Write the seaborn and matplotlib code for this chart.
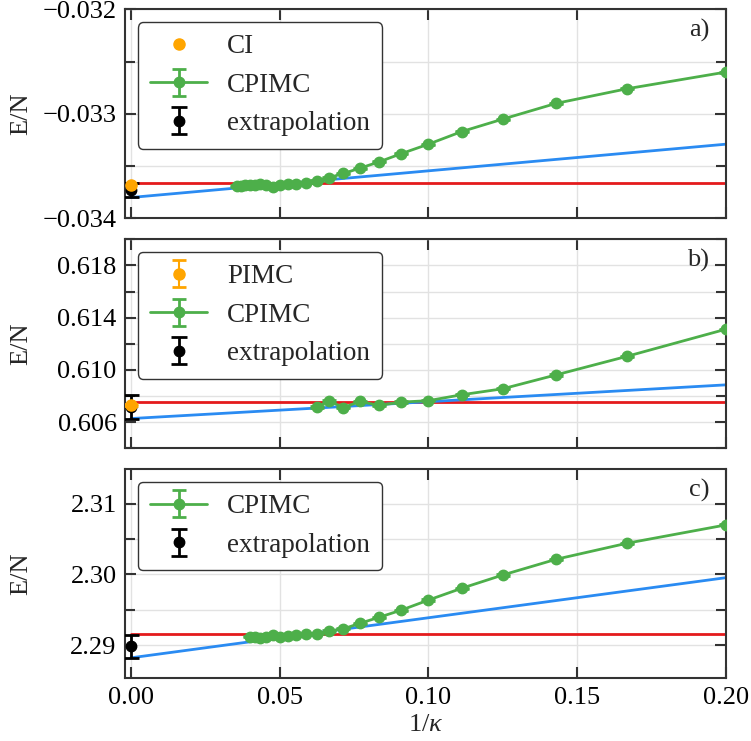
import numpy as np
import seaborn as sns
import matplotlib.pyplot as plt
from matplotlib.ticker import FixedLocator, MultipleLocator, FuncFormatter

# CPIMC data, one kappa list per panel
kappa_a = [5, 6, 7, 8, 9, 10, 11, 12, 13, 14, 15, 16, 17, 18, 19, 20, 21, 22, 23, 24, 25, 26, 27, 28]
cpimc_a = [-0.03260, -0.03276, -0.03290, -0.03305, -0.03317, -0.03329, -0.03338, -0.03346,
           -0.03352, -0.03357, -0.03361, -0.03364, -0.03366, -0.03367, -0.03367, -0.03368,
           -0.03370, -0.03368, -0.03367, -0.03368, -0.03368, -0.03368, -0.03369, -0.03369]
cpimc_a_err = [0.000005] * 24

kappa_b = [5, 6, 7, 8, 9, 10, 11, 12, 13, 14, 15, 16]
cpimc_b = [0.61312, 0.61104, 0.60962, 0.60856, 0.60810, 0.60765,
           0.60754, 0.60729, 0.60759, 0.60712, 0.60762, 0.60716]
cpimc_b_err = [0.00005] * 12

kappa_c = [5, 6, 7, 8, 9, 10, 11, 12, 13, 14, 15, 16, 17, 18, 19, 20, 21, 22, 23, 24, 25]
cpimc_c = [2.30702, 2.30442, 2.30215, 2.29993, 2.29804, 2.29638, 2.29496, 2.29393, 2.29308,
           2.29231, 2.29199, 2.29160, 2.29152, 2.29138, 2.29132, 2.29109, 2.29142, 2.29109,
           2.29095, 2.29109, 2.29118]
cpimc_c_err = [0.00008] * 21

# reference values at 1/kappa = 0
ci_a = -0.033684
pimc_b, pimc_b_err = 0.60731, 0.00008
extrap = [-0.03373, 0.60715, 2.28982]
extrap_err = [0.00007, 0.00093, 0.0016]
ref_level = [-0.033662, 0.60752, 2.29152]

# linear fit lines (value at 1/kappa = 0 and at 0.2)
fit_x = [0.0, 0.2]
fit_a = [-0.03380, -0.03329]
fit_b = [0.60628, 0.60886]
fit_c = [2.28820, 2.29955]

ylims = [(-0.034, -0.032), (0.604, 0.620), (2.2853, 2.3149)]
y_ticks = [[-0.034, -0.033, -0.032], [0.606, 0.610, 0.614, 0.618], [2.29, 2.30, 2.31]]
y_dec = [3, 3, 2]
y_minor = [0.0005, 0.002, 0.005]
x_ticks = [0.0, 0.05, 0.10, 0.15, 0.20]
panel_tags = ['a)', 'b)', 'c)']

GREEN = '#4daf4a'
ORANGE = '#ffa500'
RED = '#e41a1c'
BLUE = '#2a8bf2'
FS = 19


def fmt_with_minus(dec):
    return FuncFormatter(lambda v, pos: f'{v:.{dec}f}'.replace('-', '\u2212'))


sns.set_theme(style='ticks')
plt.rcParams['font.family'] = ['Liberation Serif', 'DejaVu Serif']
plt.rcParams['mathtext.fontset'] = 'custom'
plt.rcParams['mathtext.rm'] = 'Liberation Serif'
plt.rcParams['mathtext.it'] = 'Liberation Serif:italic'
plt.rcParams['font.size'] = FS

fig, axes = plt.subplots(3, 1, figsize=(7.51, 7.41), dpi=100, sharex=True)
fig.subplots_adjust(left=0.1664, right=0.9667, top=0.9874, bottom=0.0846, hspace=0.1)

panels = [(kappa_a, cpimc_a, cpimc_a_err, fit_a),
          (kappa_b, cpimc_b, cpimc_b_err, fit_b),
          (kappa_c, cpimc_c, cpimc_c_err, fit_c)]

for i, (ax, (kap, vals, errs, fit)) in enumerate(zip(axes, panels)):
    inv_k = 1.0 / np.array(kap)

    sns.lineplot(x=fit_x, y=[ref_level[i]] * 2, color=RED, lw=2, ax=ax, zorder=2)
    sns.lineplot(x=fit_x, y=fit, color=BLUE, lw=2, ax=ax, zorder=2)

    ax.errorbar(inv_k, vals, yerr=errs, color=GREEN, marker='o', ms=7.5, lw=2,
                capsize=5, capthick=2, label='CPIMC', zorder=3)

    if i == 0:
        ax.plot([0.0], [ci_a], 'o', color=ORANGE, ms=8, label='CI', zorder=5)
    if i == 1:
        ax.errorbar([0.0], [pimc_b], yerr=[pimc_b_err], color=ORANGE, marker='o', ms=8,
                    ls='none', capsize=5, capthick=2, label='PIMC', zorder=5)

    ax.errorbar([0.0], [extrap[i]], yerr=[extrap_err[i]], color='black', marker='o', ms=7.5,
                ls='none', capsize=6, capthick=2, elinewidth=2, label='extrapolation', zorder=4)

    ax.set_xlim(-0.002, 0.2)
    ax.set_ylim(*ylims[i])
    ax.xaxis.set_major_locator(FixedLocator(x_ticks))
    ax.xaxis.set_major_formatter(fmt_with_minus(2))
    ax.yaxis.set_major_locator(FixedLocator(y_ticks[i]))
    ax.yaxis.set_major_formatter(fmt_with_minus(y_dec[i]))
    ax.yaxis.set_minor_locator(MultipleLocator(y_minor[i]))
    ax.grid(True, which='major', axis='both', color='#e2e2e2', lw=1)
    ax.grid(True, which='minor', axis='y', color='#e2e2e2', lw=1)
    ax.set_axisbelow(True)
    ax.tick_params(which='both', direction='in', top=True, right=True, width=1.5,
                   colors='#333333', labelcolor='black', labelsize=FS, pad=6)
    ax.tick_params(which='major', length=8)
    ax.tick_params(which='minor', length=7)
    for sp in ax.spines.values():
        sp.set_color('#333333')
        sp.set_linewidth(1.5)

    ax.set_ylabel('E/N', fontsize=FS)
    ax.yaxis.set_label_coords(-0.155, 0.5)
    ax.text(0.972, 0.955, panel_tags[i], transform=ax.transAxes, ha='right', va='top', fontsize=FS)

    handles, labels = ax.get_legend_handles_labels()
    order = ['CI', 'PIMC', 'CPIMC', 'extrapolation']
    pairs = sorted([(h, l) for h, l in zip(handles, labels) if l in order],
                   key=lambda p: order.index(p[1]))
    leg = ax.legend([p[0] for p in pairs], [p[1] for p in pairs], loc='upper left',
                    bbox_to_anchor=(0.0216, 0.939), borderaxespad=0, fontsize=19.5,
                    frameon=True, fancybox=True, handlelength=2.1, handletextpad=0.75,
                    borderpad=0.45, labelspacing=0.5)
    leg.get_frame().set_edgecolor('#333333')
    leg.get_frame().set_alpha(1)

axes[2].set_xlabel(r'$1/\kappa$', fontsize=FS, labelpad=4)

fig.savefig('out.png', dpi=100)
